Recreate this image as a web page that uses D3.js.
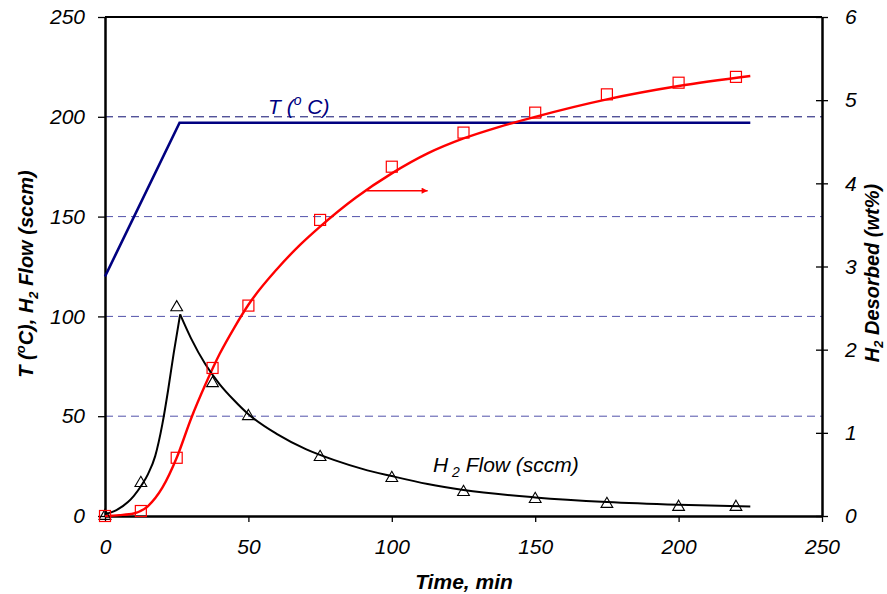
<!DOCTYPE html>
<html><head><meta charset="utf-8">
<script src="https://cdn.jsdelivr.net/npm/d3@7"></script>
<style>body{margin:0;background:#fff}svg{display:block}</style>
</head><body><svg id="c" width="887" height="594"></svg>
<script>
// ---- data ----
const xTicks = [0, 50, 100, 150, 200, 250];
const yLeftTicks = [0, 50, 100, 150, 200, 250];
const yRightTicks = [0, 1, 2, 3, 4, 5, 6];
const gridValues = [50, 100, 150, 200];

// measured points (markers)
const markTime = [0, 12.5, 25, 37.5, 50, 75, 100, 125, 150, 175, 200, 220];
const flowMarks = [0, 16.5, 104.5, 66.5, 50, 29.5, 19, 12, 8.5, 6, 4.5, 4.5];
const desorbMarks = [0, 0.06, 0.70, 1.78, 2.53, 3.56, 4.2, 4.61, 4.85, 5.07, 5.21, 5.28];

// fitted H2 flow curve (rise, then decay from the peak)
const flowRiseT = [0, 4, 8, 10, 12.8, 15, 17.5, 20, 22, 24, 26.2];
const flowRiseV = [1, 3, 7, 10, 15.5, 21, 30, 46, 63, 82, 101];
const flowDecayT = [26.2, 30, 35, 40, 45, 50, 60, 70, 80, 90, 100, 112.5, 125, 150, 175, 200, 225];
const flowDecayV = [101, 89, 76, 66, 58, 51, 41, 33.5, 28, 23.5, 20, 16, 13, 9.3, 7, 5.6, 4.7];

// fitted H2 desorbed curve (right axis)
const desCurveT = [0, 5, 10, 15, 20, 25, 30, 35, 40, 45, 50, 60, 68, 75, 87.5, 100, 112.5, 125, 137.5, 150, 175, 200, 225];
const desCurveV = [0, 0.01, 0.03, 0.12, 0.34, 0.70, 1.17, 1.58, 1.95, 2.26, 2.54, 2.97, 3.26, 3.48, 3.83, 4.12, 4.36, 4.54, 4.68, 4.80, 5.01, 5.17, 5.29];

// temperature profile
const tempT = [0, 26, 225];
const tempV = [120, 197, 197];

// arrow (points to right axis), in time / left-axis units
const arrowT = [91.3, 112.5];
const arrowV = 163;

// ---- drawing ----
const svg = d3.select('#c');
const L = 105, R = 822, T = 17, B = 516;
const x = d3.scaleLinear().domain([0, 250]).range([L, R]);
const y = d3.scaleLinear().domain([0, 250]).range([B, T]);
const y2 = d3.scaleLinear().domain([0, 6]).range([B, T]);
const font = "'Liberation Sans', Arial, sans-serif";

// gridlines
svg.append('g').selectAll('line').data(gridValues).join('line')
  .attr('x1', L).attr('x2', R)
  .attr('y1', d => y(d)).attr('y2', d => y(d))
  .attr('stroke', d => d === 200 ? '#0a0a6e' : '#5252aa')
  .attr('stroke-width', 1)
  .attr('stroke-dasharray', '8,5');

// top border
svg.append('line').attr('x1', L).attr('x2', R).attr('y1', T).attr('y2', T)
  .attr('stroke', '#000').attr('stroke-width', 2);

function styleAxis(g) {
  g.select('.domain').attr('stroke', '#000').attr('stroke-width', 2.5);
  g.selectAll('.tick line').attr('stroke', '#000').attr('stroke-width', 1.3);
  g.selectAll('.tick text').attr('font-family', font).attr('font-style', 'italic')
    .attr('font-size', 21).attr('fill', '#000');
}

const gx = svg.append('g').attr('transform', `translate(0,${B})`)
  .call(d3.axisBottom(x).tickValues(xTicks).tickSizeInner(6).tickSizeOuter(0).tickPadding(17));
styleAxis(gx);

const gy = svg.append('g').attr('transform', `translate(${L},0)`)
  .call(d3.axisLeft(y).tickValues(yLeftTicks).tickSizeInner(7).tickSizeOuter(0).tickPadding(13));
styleAxis(gy);

const gy2 = svg.append('g').attr('transform', `translate(${R},0)`)
  .call(d3.axisRight(y2).tickValues(yRightTicks).tickFormat(d3.format('d'))
    .tickSizeInner(6).tickSizeOuter(0).tickPadding(17));
styleAxis(gy2);
gy2.selectAll('.tick line').attr('x1', -6).attr('x2', 6);

// temperature line
const lineL = d3.line().x(d => x(d[0])).y(d => y(d[1]));
svg.append('path').datum(d3.zip(tempT, tempV)).attr('d', lineL)
  .attr('fill', 'none').attr('stroke', '#000080').attr('stroke-width', 2.6);

// desorbed curve
const lineR = d3.line().x(d => x(d[0])).y(d => y2(d[1])).curve(d3.curveMonotoneX);
svg.append('path').datum(d3.zip(desCurveT, desCurveV)).attr('d', lineR)
  .attr('fill', 'none').attr('stroke', '#ff0000').attr('stroke-width', 2.4);

// flow curve
const lineF = d3.line().x(d => x(d[0])).y(d => y(d[1])).curve(d3.curveMonotoneX);
svg.append('path').datum(d3.zip(flowRiseT, flowRiseV)).attr('d', lineF)
  .attr('fill', 'none').attr('stroke', '#000').attr('stroke-width', 2);
svg.append('path').datum(d3.zip(flowDecayT, flowDecayV)).attr('d', lineF)
  .attr('fill', 'none').attr('stroke', '#000').attr('stroke-width', 2);

// markers: triangles (flow)
const tri = d3.symbol().type(d3.symbolTriangle).size(60);
svg.append('g').selectAll('path').data(d3.zip(markTime, flowMarks)).join('path')
  .attr('d', tri)
  .attr('transform', d => `translate(${x(d[0])},${y(d[1])})`)
  .attr('fill', 'none').attr('stroke', '#000').attr('stroke-width', 1.1);

// markers: squares (desorbed)
svg.append('g').selectAll('rect').data(d3.zip(markTime, desorbMarks)).join('rect')
  .attr('x', d => x(d[0]) - 5.5).attr('y', d => y2(d[1]) - 5.5)
  .attr('width', 11).attr('height', 11)
  .attr('fill', 'none').attr('stroke', '#ff0000').attr('stroke-width', 1.2);

// arrow
svg.append('defs').append('marker').attr('id', 'ah')
  .attr('viewBox', '0 0 10 10').attr('refX', 10).attr('refY', 5)
  .attr('markerWidth', 8).attr('markerHeight', 6).attr('orient', 'auto')
  .attr('markerUnits', 'userSpaceOnUse')
  .append('path').attr('d', 'M0,0 L10,5 L0,10 Z').attr('fill', '#ff0000');
svg.append('line')
  .attr('x1', x(arrowT[0])).attr('x2', x(arrowT[1]))
  .attr('y1', y(arrowV)).attr('y2', y(arrowV))
  .attr('stroke', '#ff0000').attr('stroke-width', 1.5)
  .attr('marker-end', 'url(#ah)');

// in-plot labels
const tl = svg.append('text').attr('x', 268).attr('y', 114)
  .attr('font-family', font).attr('font-style', 'italic').attr('font-size', 21)
  .attr('fill', '#000080');
tl.append('tspan').text('T (');
tl.append('tspan').attr('font-size', 14).attr('dy', -9).text('o');
tl.append('tspan').attr('dy', 9).text(' C)');

const fl = svg.append('text').attr('x', 433).attr('y', 472)
  .attr('font-family', font).attr('font-style', 'italic').attr('font-size', 21)
  .attr('fill', '#000');
fl.append('tspan').text('H');
fl.append('tspan').attr('font-size', 14).attr('dy', 5).text(' 2');
fl.append('tspan').attr('dy', -5).text(' Flow (sccm)');

// axis titles
svg.append('text').attr('x', 464).attr('y', 589)
  .attr('text-anchor', 'middle')
  .attr('font-family', font).attr('font-style', 'italic').attr('font-weight', 'bold')
  .attr('font-size', 21).text('Time, min');

const lt = svg.append('text').attr('transform', 'translate(33,274) rotate(-90)')
  .attr('text-anchor', 'middle')
  .attr('font-family', font).attr('font-style', 'italic').attr('font-weight', 'bold')
  .attr('font-size', 20).attr('fill', '#000');
lt.append('tspan').text('T (');
lt.append('tspan').attr('font-size', 13).attr('dy', -8).text('o');
lt.append('tspan').attr('dy', 8).text('C), H');
lt.append('tspan').attr('font-size', 13).attr('dy', 5).text('2');
lt.append('tspan').attr('dy', -5).text(' Flow (sccm)');

const rt = svg.append('text').attr('transform', 'translate(879,273) rotate(-90)')
  .attr('text-anchor', 'middle')
  .attr('font-family', font).attr('font-style', 'italic').attr('font-weight', 'bold')
  .attr('font-size', 20).attr('fill', '#000');
rt.append('tspan').text('H');
rt.append('tspan').attr('font-size', 13).attr('dy', 4).text('2');
rt.append('tspan').attr('dy', -4).text(' Desorbed (wt%)');
</script></body></html>
